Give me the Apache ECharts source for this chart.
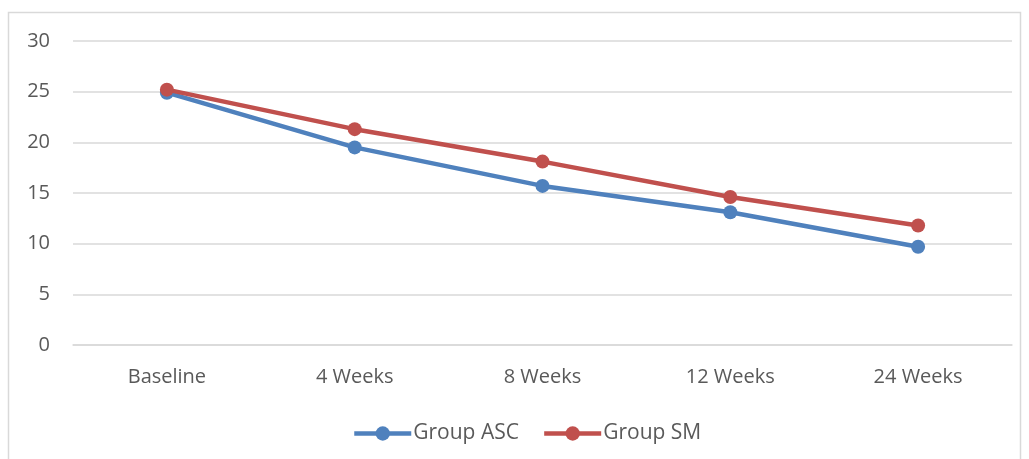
<!DOCTYPE html>
<html>
<head>
<meta charset="utf-8">
<style>
  html, body { margin: 0; padding: 0; background: #fff; }
  #chart { width: 1029px; height: 459px; }
</style>
<script src="https://cdn.jsdelivr.net/npm/echarts@6/dist/echarts.min.js"></script>
</head>
<body>
<div id="chart"></div>
<script>
// Time points and mean scores per group
const categories = ['Baseline', '4 Weeks', '8 Weeks', '12 Weeks', '24 Weeks'];
const groupASC = [24.9, 19.5, 15.7, 13.1, 9.7];
const groupSM = [25.2, 21.3, 18.1, 14.6, 11.8];
const yTicks = { min: 0, max: 30, interval: 5 };

const FONT = '"Open Sans", "Noto Sans", sans-serif';
const TEXT = '#595959';
const FS = 20;

const chart = echarts.init(document.getElementById('chart'), null, { renderer: 'canvas' });

function lineSeries(name, data, color) {
  return {
    name: name,
    type: 'line',
    data: data,
    symbol: 'circle',
    symbolSize: 14,
    lineStyle: { width: 4.5, color: color },
    itemStyle: { color: color },
    z: name === 'Group SM' ? 3 : 2
  };
}

chart.setOption({
  animation: false,
  textStyle: { fontFamily: FONT },
  graphic: [{
    type: 'rect',
    shape: { x: 8.5, y: 12.5, width: 1012, height: 470 },
    style: { fill: 'none', stroke: '#d9d9d9', lineWidth: 1.5 },
    silent: true
  }],
  grid: { left: 73, right: 17, top: 41, bottom: 114 },
  legend: {
    bottom: 10,
    left: 347,
    itemWidth: 57,
    itemHeight: 18,
    itemGap: 23,
    lineStyle: { width: 4.5 },
    textStyle: { fontFamily: FONT, fontSize: 21, color: TEXT, padding: [0, 0, 0, -3] },
    data: ['Group ASC', 'Group SM']
  },
  xAxis: {
    type: 'category',
    data: categories,
    boundaryGap: true,
    axisLine: { show: true, lineStyle: { color: '#d9d9d9', width: 1.5 } },
    axisTick: { show: false },
    axisLabel: { fontFamily: FONT, fontSize: FS, color: TEXT, margin: 22 }
  },
  yAxis: {
    type: 'value',
    min: yTicks.min,
    max: yTicks.max,
    interval: yTicks.interval,
    axisLine: { show: false },
    axisTick: { show: false },
    splitLine: { lineStyle: { color: '#d9d9d9', width: 1.5 } },
    axisLabel: { fontFamily: FONT, fontSize: FS, color: TEXT, margin: 23 }
  },
  series: [
    lineSeries('Group ASC', groupASC, '#4f81bd'),
    lineSeries('Group SM', groupSM, '#c0504d')
  ]
});
</script>
</body>
</html>
